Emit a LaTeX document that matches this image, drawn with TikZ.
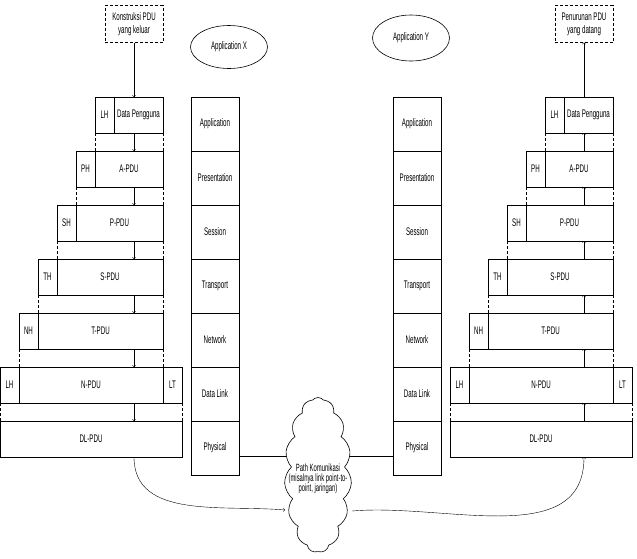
\documentclass[tikz,border=0pt]{standalone}
\usepackage{fontspec}
\setmainfont{Liberation Sans}[FakeStretch=0.56]
\usetikzlibrary{positioning, shapes.geometric, shapes.symbols, backgrounds}

\begin{document}
\begin{tikzpicture}[x=1pt, y=-1pt,
  every node/.style={font=\fontsize{11}{13}\selectfont, outer sep=0pt},
  cell/.style={draw, line width=0.6pt, minimum height=36pt, inner sep=0pt},
  hdr/.style={cell, minimum width=19pt},
  layer/.style={draw, line width=0.6pt, minimum width=48pt, minimum height=54pt, inner sep=0pt},
  note/.style={draw, dash pattern=on 3pt off 2pt, line width=0.6pt, minimum width=58pt, minimum height=37pt, align=center, inner sep=0pt},
  gap/.style={dash pattern=on 3pt off 2pt, line width=0.5pt}]
\useasboundingbox (0,0) rectangle (637,558);
\node[note] (kl) at (134,24) {Konstruksi PDU\\yang keluar};
\node[note] (pr) at (584,24) {Penurunan PDU\\yang datang};
\node[ellipse, draw, line width=0.6pt, minimum width=77pt, minimum height=43pt, inner sep=0pt] (apx) at (229,47) {Application X};
\node[ellipse, draw, line width=0.6pt, minimum width=77pt, minimum height=46pt, inner sep=0pt] (apy) at (411,38) {Application Y};
\foreach \s/\dx in {l/0, r/450}{
  \foreach \i/\hd/\bd in {1/LH/Data Pengguna, 2/PH/A-PDU, 3/SH/P-PDU, 4/TH/S-PDU, 5/NH/T-PDU}{
    \pgfmathsetmacro\xl{95-19*(\i-1)}
    \pgfmathsetmacro\yt{97+54*(\i-1)}
    \pgfmathsetmacro\wb{144-\xl}
    \node[hdr, anchor=north west] (\s h\i) at (\xl+\dx,\yt) {\hd};
    \node[cell, minimum width=\wb, right=0pt of \s h\i] (\s b\i) {\bd};
  }
  \node[hdr, anchor=north west] (\s h6) at (\dx,367) {LH};
  \node[cell, minimum width=144pt, right=0pt of \s h6] (\s b6) {N-PDU};
  \node[hdr, right=0pt of \s b6] (\s t6) {LT};
  \node[cell, minimum width=182pt, anchor=north west] (\s b7) at (\dx,421) {DL-PDU};
  \foreach \i in {1,...,5}{
    \pgfmathtruncatemacro\k{\i+1}
    \draw[gap] (\s h\i.south west) -- (\s h\i.south west |- \s b\k.north);
    \draw[gap] (\s b\i.south east) -- (\s b\i.south east |- \s b\k.north);
  }
  \draw[gap] (\s h6.south west) -- (\s h6.south west |- \s b7.north);
  \draw[gap] (\s t6.south east) -- (\s t6.south east |- \s b7.north);
}
\foreach \s/\x in {x/191, y/393}{
  \node[layer, anchor=north west] (\s1) at (\x,97) {Application};
  \foreach \j/\t in {2/Presentation, 3/Session, 4/Transport, 5/Network, 6/Data Link, 7/Physical}{
    \pgfmathtruncatemacro\k{\j-1}
    \node[layer, below=0pt of \s\k] (\s\j) {\t};
  }
}
\draw[->] (kl.south) -- (kl.south |- lh1.north);
\draw[->] (pr.south |- rh1.north) -- (pr.south);
\foreach \i in {1,...,6}{
  \pgfmathtruncatemacro\k{\i+1}
  \draw[->] (kl.south |- lb\i.south) -- (kl.south |- lb\k.north);
  \draw[->] (pr.south |- rb\k.north) -- (pr.south |- rb\i.south);
}
\node[cloud, draw, fill=white, line width=0.6pt, cloud puffs=15, cloud puff arc=100, cloud ignores aspect, minimum width=67pt, minimum height=155pt] (cl) at (318,475) {};
\node[align=center, inner sep=0pt, font=\fontsize{10.5}{10}\selectfont] (clt) at (318,479) {Path Komunikasi\\(misalnya link point-to-\\point, jaringan)};
\begin{scope}[on background layer]
\draw[line width=0.6pt] ([yshift=-8pt]x7.east) -- ([yshift=-8pt]y7.west);
\end{scope}
\coordinate (cin) at (285,510);
\coordinate (cout) at (352,511);
\draw[->] (kl.south |- lb7.south) to[out=-90, in=175] (cin);
\draw[->] (cout) to[out=5, in=-90] (pr.south |- rb7.south);
\end{tikzpicture}
\end{document}
